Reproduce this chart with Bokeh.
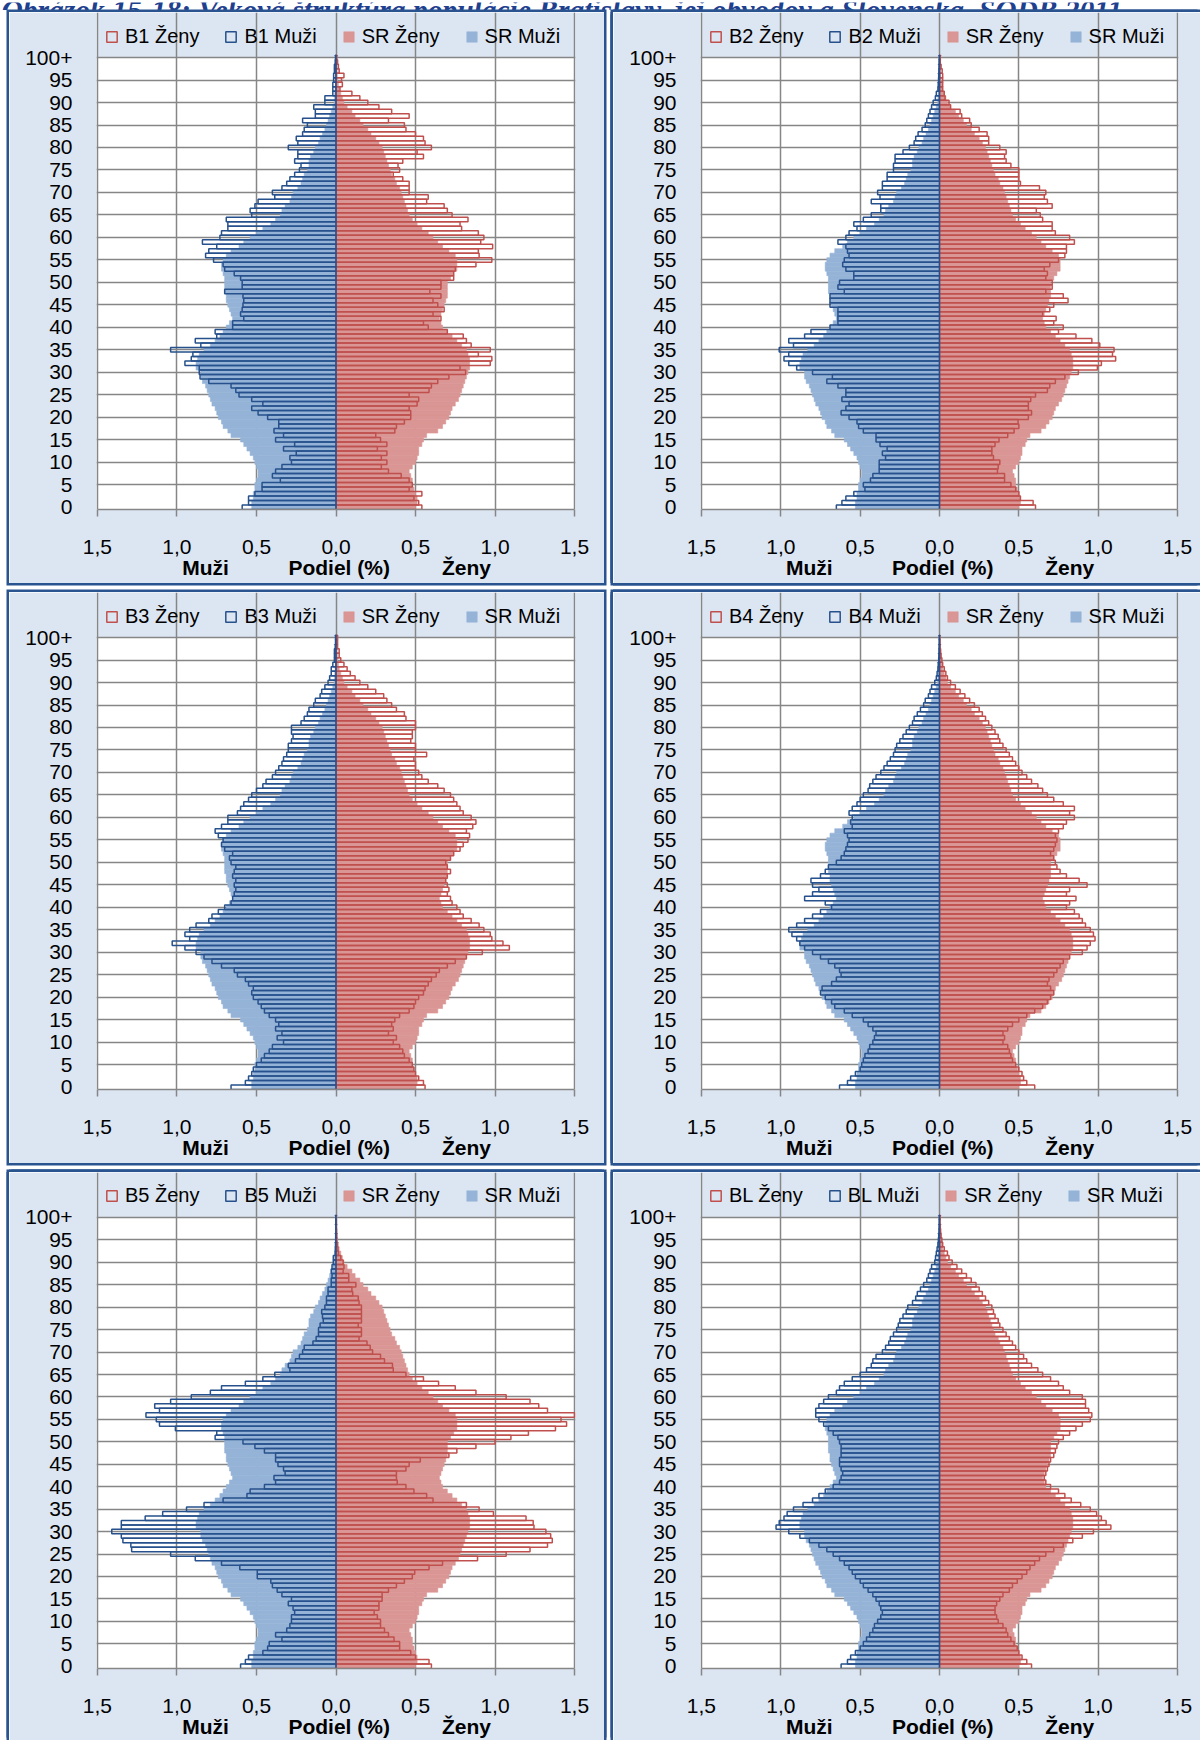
from bokeh.plotting import figure
from bokeh.models import ColumnDataSource, FixedTicker, Legend, LegendItem, LinearAxis, Range1d, Spacer
from bokeh.layouts import column, row
from bokeh.embed import file_html
from bokeh.resources import INLINE
from bokeh.core.properties import value

TITLE = "Obrázok 15-18: Veková štruktúra populácie Bratislavy, jej obvodov a Slovenska, SODB 2011"
AGES = list(range(101))
AGE_TICKS = list(range(0, 101, 5))
AGE_TICK_LABELS = [str(a) for a in AGE_TICKS[:-1]] + ["100+"]
SHARE_TICKS = [-1.5, -1.0, -0.5, 0.0, 0.5, 1.0, 1.5]
SHARE_TICK_LABELS = ["1,5", "1,0", "0,5", "0,0", "0,5", "1,0", "1,5"]
AXIS_WORDS = ["Muži", "Podiel (%)", "Ženy"]
AXIS_WORD_POS = [-0.82, 0.02, 0.82]

SR_MUZI = [0.53, 0.53, 0.52, 0.52, 0.51, 0.51, 0.50, 0.49, 0.49, 0.50,
           0.51, 0.52, 0.54, 0.56, 0.58, 0.60, 0.66, 0.68, 0.71, 0.72,
           0.74, 0.75, 0.76, 0.78, 0.79, 0.80, 0.81, 0.82, 0.84, 0.85,
           0.85, 0.88, 0.88, 0.87, 0.86, 0.83, 0.79, 0.76, 0.73, 0.71,
           0.69, 0.67, 0.65, 0.66, 0.67, 0.68, 0.69, 0.69, 0.70, 0.70,
           0.70, 0.70, 0.71, 0.72, 0.72, 0.71, 0.69, 0.66, 0.61, 0.58,
           0.54, 0.50, 0.46, 0.41, 0.38, 0.35, 0.34, 0.32, 0.29, 0.28,
           0.27, 0.24, 0.22, 0.21, 0.20, 0.18, 0.17, 0.17, 0.16, 0.14,
           0.13, 0.11, 0.10, 0.085, 0.07, 0.06, 0.05, 0.04, 0.03, 0.02,
           0.012, 0.01, 0.008, 0.006, 0.004, 0.003, 0.002, 0.002, 0.001, 0.001,
           0.001]
SR_ZENY = [0.50, 0.51, 0.51, 0.50, 0.49, 0.48, 0.48, 0.47, 0.46, 0.48,
           0.50, 0.51, 0.52, 0.52, 0.54, 0.55, 0.57, 0.64, 0.67, 0.69,
           0.71, 0.72, 0.73, 0.75, 0.77, 0.78, 0.79, 0.80, 0.81, 0.82,
           0.83, 0.84, 0.84, 0.84, 0.83, 0.82, 0.79, 0.76, 0.73, 0.70,
           0.67, 0.66, 0.65, 0.66, 0.67, 0.68, 0.69, 0.70, 0.70, 0.70,
           0.70, 0.72, 0.74, 0.76, 0.76, 0.76, 0.75, 0.71, 0.67, 0.64,
           0.61, 0.58, 0.54, 0.51, 0.48, 0.46, 0.45, 0.44, 0.43, 0.42,
           0.41, 0.40, 0.38, 0.37, 0.35, 0.34, 0.33, 0.32, 0.31, 0.30,
           0.29, 0.27, 0.25, 0.22, 0.20, 0.17, 0.15, 0.12, 0.10, 0.07,
           0.05, 0.04, 0.03, 0.02, 0.015, 0.01, 0.007, 0.005, 0.003, 0.002,
           0.003]

B1_MUZI = [0.59, 0.55, 0.55, 0.51, 0.465, 0.465, 0.35, 0.40, 0.38, 0.34,
           0.28, 0.29, 0.25, 0.33, 0.26, 0.38, 0.33, 0.39, 0.36, 0.36,
           0.43, 0.49, 0.53, 0.46, 0.53, 0.61, 0.63, 0.66, 0.80, 0.855,
           0.86, 0.86, 0.95, 0.91, 0.90, 1.04, 0.85, 0.885, 0.75, 0.76,
           0.65, 0.65, 0.58, 0.60, 0.59, 0.585, 0.58, 0.585, 0.70, 0.59,
           0.59, 0.60, 0.64, 0.70, 0.71, 0.77, 0.82, 0.80, 0.75, 0.84,
           0.73, 0.72, 0.68, 0.68, 0.69, 0.53, 0.54, 0.51, 0.49, 0.385,
           0.40, 0.34, 0.31, 0.29, 0.26, 0.23, 0.22, 0.26, 0.24, 0.24,
           0.30, 0.24, 0.25, 0.21, 0.20, 0.18, 0.21, 0.13, 0.13, 0.14,
           0.07, 0.07, 0.02, 0.02, 0.02, 0.015, 0.015, 0.01, 0.01, 0.005,
           0.003]
B1_ZENY = [0.54, 0.52, 0.49, 0.54, 0.46, 0.48, 0.46, 0.41, 0.33, 0.285,
           0.32, 0.285, 0.32, 0.26, 0.32, 0.28, 0.25, 0.37, 0.38, 0.43,
           0.47, 0.47, 0.46, 0.51, 0.52, 0.46, 0.585, 0.60, 0.64, 0.71,
           0.815, 0.78, 0.97, 0.98, 0.895, 0.97, 0.85, 0.82, 0.80, 0.70,
           0.58, 0.55, 0.66, 0.61, 0.68, 0.64, 0.61, 0.66, 0.59, 0.66,
           0.66, 0.74, 0.74, 0.75, 0.88, 0.98, 0.90, 0.895, 0.985, 0.91,
           0.93, 0.895, 0.79, 0.78, 0.83, 0.73, 0.70, 0.68, 0.57, 0.58,
           0.46, 0.46, 0.46, 0.42, 0.36, 0.40, 0.39, 0.42, 0.55, 0.51,
           0.60, 0.56, 0.55, 0.50, 0.44, 0.43, 0.33, 0.46, 0.35, 0.27,
           0.20, 0.15, 0.10, 0.025, 0.04, 0.035, 0.05, 0.02, 0.015, 0.01,
           0.005]

B2_MUZI = [0.65, 0.615, 0.59, 0.54, 0.47, 0.48, 0.435, 0.42, 0.38, 0.38,
           0.38, 0.34, 0.36, 0.33, 0.375, 0.40, 0.40, 0.48, 0.51, 0.52,
           0.57, 0.62, 0.59, 0.57, 0.615, 0.59, 0.59, 0.64, 0.71, 0.675,
           0.80, 0.90, 0.95, 0.98, 0.95, 1.01, 0.92, 0.95, 0.85, 0.81,
           0.69, 0.64, 0.64, 0.64, 0.64, 0.69, 0.69, 0.69, 0.60, 0.64,
           0.63, 0.54, 0.54, 0.59, 0.61, 0.60, 0.57, 0.58, 0.59, 0.64,
           0.59, 0.57, 0.52, 0.54, 0.48, 0.43, 0.37, 0.37, 0.43, 0.375,
           0.39, 0.36, 0.36, 0.33, 0.33, 0.29, 0.29, 0.28, 0.28, 0.23,
           0.19, 0.16, 0.15, 0.135, 0.11, 0.09, 0.08, 0.07, 0.06, 0.05,
           0.04, 0.026, 0.02, 0.01, 0.008, 0.006, 0.005, 0.004, 0.003, 0.002,
           0.001]
B2_ZENY = [0.605, 0.59, 0.51, 0.50, 0.48, 0.45, 0.41, 0.41, 0.365, 0.37,
           0.38, 0.34, 0.33, 0.33, 0.35, 0.375, 0.43, 0.47, 0.50, 0.495,
           0.56, 0.58, 0.56, 0.56, 0.575, 0.605, 0.68, 0.695, 0.73, 0.79,
           0.875, 0.995, 1.02, 1.11, 1.09, 1.10, 1.01, 0.96, 0.86, 0.75,
           0.78, 0.72, 0.735, 0.65, 0.695, 0.72, 0.81, 0.78, 0.67, 0.71,
           0.71, 0.67, 0.68, 0.66, 0.695, 0.75, 0.79, 0.80, 0.80, 0.85,
           0.82, 0.73, 0.71, 0.71, 0.65, 0.635, 0.61, 0.71, 0.68, 0.66,
           0.67, 0.63, 0.51, 0.50, 0.50, 0.50, 0.45, 0.42, 0.41, 0.42,
           0.38, 0.31, 0.31, 0.30, 0.25, 0.20, 0.19, 0.14, 0.13, 0.07,
           0.06, 0.035, 0.03, 0.02, 0.02, 0.02, 0.02, 0.017, 0.01, 0.005,
           0.005]

B3_MUZI = [0.66, 0.57, 0.55, 0.53, 0.52, 0.50, 0.47, 0.45, 0.42, 0.40,
           0.33, 0.37, 0.34, 0.38, 0.36, 0.38, 0.42, 0.45, 0.47, 0.49,
           0.52, 0.53, 0.52, 0.55, 0.57, 0.62, 0.64, 0.72, 0.78, 0.83,
           0.88, 0.95, 1.03, 0.92, 0.95, 0.92, 0.88, 0.80, 0.78, 0.74,
           0.70, 0.66, 0.65, 0.64, 0.63, 0.64, 0.63, 0.65, 0.64, 0.63,
           0.66, 0.67, 0.65, 0.70, 0.72, 0.71, 0.74, 0.76, 0.72, 0.68,
           0.68, 0.62, 0.60, 0.58, 0.55, 0.53, 0.50, 0.46, 0.44, 0.40,
           0.38, 0.36, 0.34, 0.33, 0.31, 0.30, 0.30, 0.28, 0.27, 0.28,
           0.28, 0.22, 0.20, 0.18, 0.17, 0.14, 0.13, 0.10, 0.09, 0.07,
           0.05, 0.04, 0.03, 0.03, 0.02, 0.01, 0.01, 0.01, 0.005, 0.003,
           0.003]
B3_ZENY = [0.56, 0.55, 0.52, 0.50, 0.49, 0.48, 0.46, 0.43, 0.42, 0.40,
           0.36, 0.38, 0.33, 0.36, 0.35, 0.37, 0.40, 0.46, 0.49, 0.50,
           0.52, 0.55, 0.56, 0.58, 0.60, 0.63, 0.65, 0.70, 0.75, 0.82,
           0.92, 1.09, 1.05, 0.98, 0.97, 0.93, 0.90, 0.85, 0.80, 0.78,
           0.76, 0.73, 0.72, 0.70, 0.71, 0.70, 0.69, 0.70, 0.72, 0.70,
           0.69, 0.72, 0.74, 0.78, 0.80, 0.83, 0.84, 0.82, 0.86, 0.88,
           0.85, 0.80, 0.78, 0.76, 0.74, 0.72, 0.68, 0.64, 0.58, 0.54,
           0.52, 0.50, 0.50, 0.49, 0.57, 0.50, 0.50, 0.47, 0.48, 0.48,
           0.50, 0.50, 0.44, 0.43, 0.38, 0.35, 0.32, 0.30, 0.25, 0.20,
           0.15, 0.12, 0.09, 0.07, 0.05, 0.03, 0.02, 0.02, 0.01, 0.01,
           0.01]

B4_MUZI = [0.63, 0.58, 0.56, 0.53, 0.50, 0.49, 0.48, 0.47, 0.45, 0.44,
           0.42, 0.41, 0.40, 0.42, 0.45, 0.48, 0.55, 0.60, 0.66, 0.68,
           0.72, 0.75, 0.74, 0.68, 0.65, 0.62, 0.63, 0.66, 0.70, 0.75,
           0.80, 0.85, 0.88, 0.90, 0.93, 0.95, 0.90, 0.85, 0.80, 0.75,
           0.68, 0.72, 0.85, 0.80, 0.76, 0.80, 0.81, 0.75, 0.72, 0.70,
           0.65, 0.62, 0.60, 0.59, 0.58, 0.57, 0.58, 0.60, 0.55, 0.56,
           0.55, 0.57, 0.55, 0.52, 0.50, 0.48, 0.45, 0.44, 0.42, 0.40,
           0.37, 0.35, 0.33, 0.31, 0.29, 0.28, 0.27, 0.25, 0.23, 0.21,
           0.19, 0.17, 0.16, 0.14, 0.12, 0.10, 0.09, 0.07, 0.06, 0.05,
           0.03, 0.02, 0.015, 0.01, 0.008, 0.005, 0.004, 0.003, 0.002, 0.001,
           0.001]
B4_ZENY = [0.60, 0.55, 0.53, 0.52, 0.50, 0.48, 0.46, 0.45, 0.44, 0.43,
           0.40, 0.41, 0.40, 0.43, 0.46, 0.50, 0.55, 0.60, 0.65, 0.68,
           0.70, 0.72, 0.70, 0.68, 0.69, 0.72, 0.74, 0.76, 0.78, 0.82,
           0.90, 0.93, 0.95, 0.98, 0.97, 0.95, 0.92, 0.90, 0.88, 0.85,
           0.80, 0.82, 0.86, 0.80, 0.82, 0.93, 0.88, 0.80, 0.76, 0.74,
           0.73, 0.72, 0.70, 0.72, 0.73, 0.74, 0.73, 0.75, 0.78, 0.80,
           0.85, 0.82, 0.85, 0.78, 0.72, 0.68, 0.65, 0.62, 0.58, 0.55,
           0.52, 0.50, 0.48, 0.46, 0.44, 0.42, 0.40, 0.38, 0.37, 0.35,
           0.33, 0.31, 0.29, 0.27, 0.25, 0.22, 0.19, 0.16, 0.13, 0.10,
           0.07, 0.05, 0.04, 0.03, 0.02, 0.015, 0.01, 0.007, 0.004, 0.003,
           0.002]

B5_MUZI = [0.60, 0.57, 0.55, 0.46, 0.43, 0.42, 0.34, 0.38, 0.31, 0.29,
           0.28, 0.28, 0.26, 0.27, 0.30, 0.28, 0.34, 0.37, 0.40, 0.41,
           0.495, 0.495, 0.605, 0.72, 0.885, 1.04, 1.285, 1.29, 1.34, 1.35,
           1.41, 1.35, 1.35, 1.20, 1.09, 0.94, 0.83, 0.71, 0.56, 0.54,
           0.45, 0.38, 0.39, 0.32, 0.33, 0.365, 0.38, 0.38, 0.45, 0.51,
           0.585, 0.76, 0.75, 1.01, 1.11, 1.13, 1.195, 1.11, 1.14, 1.04,
           0.91, 0.79, 0.72, 0.57, 0.46, 0.385, 0.29, 0.30, 0.255, 0.23,
           0.21, 0.20, 0.145, 0.125, 0.11, 0.11, 0.10, 0.08, 0.085, 0.09,
           0.07, 0.06, 0.06, 0.05, 0.05, 0.03, 0.03, 0.025, 0.03, 0.025,
           0.017, 0.017, 0.005, 0.004, 0.003, 0.002, 0.002, 0.001, 0.001, 0.001,
           0.001]
B5_ZENY = [0.60, 0.585, 0.50, 0.47, 0.40, 0.40, 0.365, 0.33, 0.305, 0.28,
           0.28, 0.26, 0.24, 0.27, 0.27, 0.29, 0.29, 0.33, 0.38, 0.43,
           0.48, 0.495, 0.585, 0.67, 0.89, 1.07, 1.22, 1.33, 1.36, 1.35,
           1.32, 1.245, 1.24, 1.195, 0.99, 0.90, 0.82, 0.61, 0.57, 0.49,
           0.44, 0.385, 0.38, 0.38, 0.44, 0.46, 0.53, 0.71, 0.76, 0.88,
           1.00, 1.10, 1.21, 1.38, 1.45, 1.415, 1.50, 1.33, 1.275, 1.22,
           1.07, 0.88, 0.75, 0.645, 0.55, 0.44, 0.36, 0.355, 0.305, 0.28,
           0.23, 0.215, 0.195, 0.145, 0.16, 0.16, 0.14, 0.16, 0.16, 0.16,
           0.16, 0.145, 0.14, 0.105, 0.10, 0.125, 0.08, 0.08, 0.045, 0.05,
           0.045, 0.03, 0.015, 0.012, 0.008, 0.005, 0.004, 0.003, 0.002, 0.002,
           0.001]

BL_MUZI = [0.62, 0.58, 0.56, 0.53, 0.50, 0.48, 0.46, 0.44, 0.42, 0.41,
           0.39, 0.37, 0.36, 0.37, 0.38, 0.40, 0.42, 0.45, 0.48, 0.50,
           0.53, 0.55, 0.57, 0.60, 0.63, 0.67, 0.71, 0.76, 0.82, 0.88,
           0.95, 1.03, 1.01, 0.98, 0.96, 0.92, 0.86, 0.80, 0.76, 0.72,
           0.67, 0.63, 0.62, 0.61, 0.62, 0.63, 0.63, 0.62, 0.62, 0.62,
           0.63, 0.64, 0.67, 0.70, 0.73, 0.76, 0.78, 0.78, 0.76, 0.73,
           0.70, 0.65, 0.63, 0.60, 0.55, 0.50, 0.46, 0.43, 0.42, 0.40,
           0.36, 0.34, 0.32, 0.31, 0.29, 0.27, 0.26, 0.25, 0.23, 0.21,
           0.20, 0.17, 0.15, 0.14, 0.12, 0.10, 0.08, 0.07, 0.06, 0.05,
           0.03, 0.025, 0.02, 0.015, 0.01, 0.007, 0.005, 0.003, 0.002, 0.001,
           0.001]
BL_ZENY = [0.58, 0.55, 0.52, 0.50, 0.49, 0.47, 0.45, 0.43, 0.42, 0.40,
           0.37, 0.36, 0.35, 0.35, 0.36, 0.38, 0.40, 0.44, 0.46, 0.49,
           0.52, 0.55, 0.57, 0.60, 0.63, 0.67, 0.72, 0.78, 0.84, 0.90,
           0.97, 1.08, 1.05, 1.02, 0.99, 0.95, 0.89, 0.83, 0.79, 0.75,
           0.70, 0.67, 0.66, 0.67, 0.68, 0.69, 0.70, 0.72, 0.73, 0.74,
           0.75, 0.78, 0.82, 0.86, 0.90, 0.95, 0.96, 0.94, 0.92, 0.92,
           0.90, 0.82, 0.78, 0.75, 0.70, 0.65, 0.62, 0.58, 0.55, 0.53,
           0.50, 0.48, 0.46, 0.44, 0.42, 0.40, 0.38, 0.37, 0.35, 0.34,
           0.33, 0.31, 0.29, 0.27, 0.25, 0.23, 0.20, 0.17, 0.14, 0.11,
           0.08, 0.06, 0.05, 0.03, 0.02, 0.015, 0.01, 0.007, 0.005, 0.003,
           0.004]

PANEL_BG = "#dce6f2"
BORDER = "#2a5490"
GRID = "#868686"
SR_F_COL = "#da9694"
SR_M_COL = "#95b3d7"
B_F_COL = "#c0504d"
B_M_COL = "#27518c"
FONT = "Liberation Sans"

C = BORDER
SH_FULL = f"0 0 0 2.5px {C}"
SH_LEFT_BOTTOM_OPEN = f"-2.5px 0 0 0 {C}, 2.5px 0 0 0 {C}, 0 -2.5px 0 0 {C}, -2.5px -2.5px 0 0 {C}, 2.5px -2.5px 0 0 {C}"
SH_RIGHT_OPEN = f"-2.5px 0 0 0 {C}, 0 -2.5px 0 0 {C}, 0 2.5px 0 0 {C}, -2.5px -2.5px 0 0 {C}, -2.5px 2.5px 0 0 {C}"
SH_RIGHT_BOTTOM_OPEN = f"-2.5px 0 0 0 {C}, 0 -2.5px 0 0 {C}, -2.5px -2.5px 0 0 {C}"

PX_PER_AGE = 4.497      # vertical scale of the plot area
FRAME_H = 497           # frame incl. legend strip above the plot area
Y_TOP = -0.5 + FRAME_H / PX_PER_AGE


def make_panel(code, zeny, muzi, width, height, border_right, shadow):
    p = figure(width=width, height=height,
               x_range=Range1d(-1.506, 1.506), y_range=Range1d(-0.5, Y_TOP),
               output_backend="svg", toolbar_location=None, sizing_mode="fixed",
               min_border_left=87, min_border_right=border_right,
               min_border_top=0, min_border_bottom=height - FRAME_H,
               border_fill_color=PANEL_BG, background_fill_color=PANEL_BG,
               outline_line_color=None)
    p.styles = {"box-shadow": shadow}

    # white plot area (drawn beneath the grid)
    p.quad(left=[SHARE_TICKS[0]], right=[SHARE_TICKS[-1]], bottom=[-0.5], top=[AGE_TICKS[-1]],
           fill_color="white", line_color=None, level="image")

    src = ColumnDataSource(dict(age=AGES,
                                sr_f=SR_ZENY, sr_m=[-v for v in SR_MUZI],
                                b_f=zeny, b_m=[-v for v in muzi]))
    r_srf = p.hbar(y="age", left=0, right="sr_f", height=1.0, source=src,
                   fill_color=SR_F_COL, line_color=SR_F_COL, line_width=0.6)
    r_srm = p.hbar(y="age", left=0, right="sr_m", height=1.0, source=src,
                   fill_color=SR_M_COL, line_color=SR_M_COL, line_width=0.6)
    r_bf = p.hbar(y="age", left=0, right="b_f", height=1.0, source=src,
                  fill_color=None, line_color=B_F_COL, line_width=1.5)
    r_bm = p.hbar(y="age", left=0, right="b_m", height=1.0, source=src,
                  fill_color=None, line_color=B_M_COL, line_width=1.5)

    p.xgrid.ticker = FixedTicker(ticks=SHARE_TICKS)
    p.xgrid.bounds = (-0.5, AGE_TICKS[-1])
    p.ygrid.ticker = FixedTicker(ticks=AGE_TICKS[1:])
    p.ygrid.bounds = (SHARE_TICKS[0], SHARE_TICKS[-1])
    p.grid.grid_line_color = GRID
    p.grid.grid_line_width = 1.5

    xa = p.xaxis[0]
    xa.ticker = FixedTicker(ticks=SHARE_TICKS)
    xa.major_label_overrides = dict(zip(SHARE_TICKS, SHARE_TICK_LABELS))
    xa.bounds = (SHARE_TICKS[0], SHARE_TICKS[-1])
    xa.axis_line_color = GRID
    xa.axis_line_width = 1.5
    xa.major_tick_line_color = GRID
    xa.major_tick_line_width = 1.5
    xa.major_tick_out = 7
    xa.major_tick_in = 0
    xa.minor_tick_line_color = None
    xa.major_label_standoff = 23
    xa.major_label_text_font = FONT
    xa.major_label_text_font_size = "21px"
    xa.major_label_text_color = "black"

    xa2 = LinearAxis(ticker=FixedTicker(ticks=AXIS_WORD_POS),
                     major_label_overrides=dict(zip(AXIS_WORD_POS, AXIS_WORDS)),
                     axis_line_color=None, major_tick_line_color=None,
                     minor_tick_line_color=None, major_label_standoff=-7,
                     major_label_text_font=FONT, major_label_text_font_size="21px",
                     major_label_text_font_style="bold", major_label_text_color="black")
    p.add_layout(xa2, "below")

    ya = p.yaxis[0]
    ya.ticker = FixedTicker(ticks=AGE_TICKS)
    ya.major_label_overrides = dict(zip(AGE_TICKS, AGE_TICK_LABELS))
    ya.axis_line_color = None
    ya.major_tick_line_color = None
    ya.minor_tick_line_color = None
    ya.major_label_standoff = 18
    ya.major_label_text_font = FONT
    ya.major_label_text_font_size = "21px"
    ya.major_label_text_color = "black"

    legend = Legend(items=[LegendItem(label=f"{code} Ženy", renderers=[r_bf]),
                           LegendItem(label=f"{code} Muži", renderers=[r_bm]),
                           LegendItem(label="SR Ženy", renderers=[r_srf]),
                           LegendItem(label="SR Muži", renderers=[r_srm])],
                    orientation="horizontal", location=(9, 461),
                    label_text_font=FONT, label_text_font_size="20px",
                    label_text_color="black",
                    glyph_width=13, glyph_height=13, label_standoff=7,
                    spacing=25, padding=0, margin=0,
                    border_line_color=None, background_fill_alpha=0)
    p.add_layout(legend, "center")
    return p


title_fig = figure(width=1200, height=10, x_range=Range1d(0, 1200), y_range=Range1d(0, 10),
                   output_backend="svg", toolbar_location=None, min_border=0,
                   sizing_mode="fixed",
                   x_axis_type=None, y_axis_type=None, outline_line_color=None,
                   background_fill_color="white", border_fill_color="white")
title_fig.text(x=[1], y=[3], text=[TITLE], text_font=value("Liberation Serif"),
               text_font_style="bold italic", text_font_size="29.5px",
               text_color="#1f3f8f", text_baseline="alphabetic")

p1 = make_panel("B1", B1_ZENY, B1_MUZI, 595, 571, 29, SH_FULL)
p2 = make_panel("B2", B2_ZENY, B2_MUZI, 587, 571, 22, SH_RIGHT_OPEN)
p3 = make_panel("B3", B3_ZENY, B3_MUZI, 595, 571, 29, SH_FULL)
p4 = make_panel("B4", B4_ZENY, B4_MUZI, 587, 571, 22, SH_RIGHT_OPEN)
p5 = make_panel("B5", B5_ZENY, B5_MUZI, 595, 568, 29, SH_LEFT_BOTTOM_OPEN)
p6 = make_panel("BL", BL_ZENY, BL_MUZI, 587, 568, 22, SH_RIGHT_BOTTOM_OPEN)


def hgap(h):
    return Spacer(width=9, height=h, sizing_mode="fixed")


def vgap(h):
    return Spacer(width=1200, height=h, sizing_mode="fixed")


layout = column(title_fig, vgap(2),
                row(hgap(571), p1, hgap(571), p2, sizing_mode="fixed"), vgap(9),
                row(hgap(571), p3, hgap(571), p4, sizing_mode="fixed"), vgap(9),
                row(hgap(568), p5, hgap(568), p6, sizing_mode="fixed"),
                sizing_mode="fixed")

open("out.html", "w").write(file_html(layout, INLINE))
